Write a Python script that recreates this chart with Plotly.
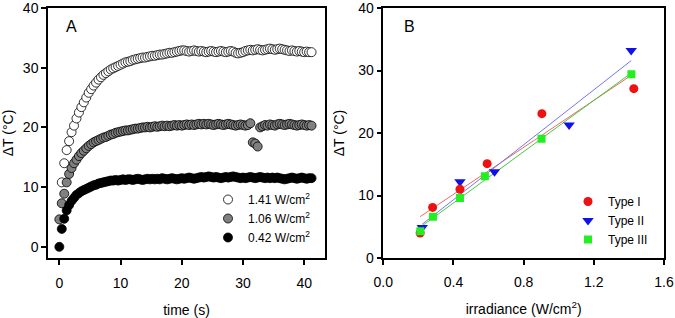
import numpy as np
import plotly.graph_objects as go

# ---------------- Panel A data ----------------
time_s = [
    0.0, 0.4, 0.8, 1.2, 1.6, 2.0, 2.4, 2.8, 3.2, 3.6,
    4.0, 4.4, 4.8, 5.2, 5.6, 6.0, 6.4, 6.8, 7.2, 7.6,
    8.0, 8.4, 8.8, 9.2, 9.6, 10.0, 10.4, 10.8, 11.2, 11.6,
    12.0, 12.4, 12.8, 13.2, 13.6, 14.0, 14.4, 14.8, 15.2, 15.6,
    16.0, 16.4, 16.8, 17.2, 17.6, 18.0, 18.4, 18.8, 19.2, 19.6,
    20.0, 20.4, 20.8, 21.2, 21.6, 22.0, 22.4, 22.8, 23.2, 23.6,
    24.0, 24.4, 24.8, 25.2, 25.6, 26.0, 26.4, 26.8, 27.2, 27.6,
    28.0, 28.4, 28.8, 29.2, 29.6, 30.0, 30.4, 30.8, 31.2, 31.6,
    32.0, 32.4, 32.8, 33.2, 33.6, 34.0, 34.4, 34.8, 35.2, 35.6,
    36.0, 36.4, 36.8, 37.2, 37.6, 38.0, 38.4, 38.8, 39.2, 39.6,
    40.0, 40.4, 40.8, 41.2,
]

dT_141 = [
    None, 10.8, 14.0, 16.2, 17.7, 19.2, 20.3, 21.5, 22.5, 23.4,
    24.2, 25.0, 25.8, 26.4, 27.0, 27.5, 28.0, 28.4, 28.8, 29.1,
    29.4, 29.7, 29.9, 30.1, 30.3, 30.5, 30.7, 30.9, 31.0, 31.1,
    31.3, 31.4, 31.5, 31.6, 31.7, 31.7, 31.8, 31.9, 32.0, 32.0,
    32.1, 32.2, 32.2, 32.3, 32.4, 32.5, 32.5, 32.6, 32.7, 32.8,
    32.9, 32.9, 32.8, 32.7, 32.8, 32.9, 32.8, 32.7, 32.8, 32.7,
    32.6, 32.7, 32.8, 32.7, 32.6, 32.7, 32.8, 32.7, 32.6, 32.7,
    32.8, 32.7, 32.5, 32.4, 32.5, 32.6, 32.8, 32.9, 33.0, 32.9,
    33.0, 33.1, 33.0, 32.9, 33.0, 33.1, 33.2, 33.1, 33.0, 33.1,
    33.2, 33.1, 33.0, 32.9, 32.8, 32.9, 32.8, 32.7, 32.8, 32.7,
    32.6, 32.7, 32.6, 32.6,
]

dT_106 = [
    4.6, 7.3, 8.9, 10.8, 12.2, 13.2, 14.0, 14.6, 15.2, 15.7,
    16.1, 16.5, 16.9, 17.2, 17.5, 17.7, 17.9, 18.1, 18.3, 18.4,
    18.6, 18.8, 18.9, 19.1, 19.2, 19.3, 19.4, 19.5, 19.5, 19.6,
    19.7, 19.8, 19.8, 19.9, 20.0, 20.0, 20.1, 20.0, 20.1, 20.2,
    20.1, 20.2, 20.3, 20.2, 20.3, 20.2, 20.3, 20.4, 20.3, 20.4,
    20.3, 20.4, 20.5, 20.4, 20.5, 20.4, 20.5, 20.6, 20.5, 20.6,
    20.5, 20.6, 20.5, 20.4, 20.5, 20.6, 20.5, 20.4, 20.5, 20.6,
    20.5, 20.4, 20.3, 20.4, 20.5, 20.4, 20.3, 20.4, 20.7, 17.5,
    17.3, 16.8, 20.0, 20.2, 20.4, 20.3, 20.5, 20.4, 20.3, 20.5,
    20.6, 20.5, 20.4, 20.5, 20.6, 20.5, 20.4, 20.3, 20.4, 20.5,
    20.4, 20.3, 20.4, 20.3,
]

dT_042 = [
    0.0, 3.0, 4.7, 6.1, 7.0, 7.7, 8.2, 8.7, 9.0, 9.3,
    9.5, 9.7, 9.9, 10.1, 10.3, 10.4, 10.6, 10.7, 10.8, 10.9,
    11.0, 11.1, 11.1, 11.2, 11.1, 11.2, 11.3, 11.2, 11.3, 11.3,
    11.2, 11.3, 11.4, 11.3, 11.2, 11.3, 11.4, 11.3, 11.4, 11.3,
    11.4, 11.3, 11.5, 11.4, 11.3, 11.4, 11.5, 11.4, 11.3, 11.4,
    11.5, 11.4, 11.5, 11.6, 11.5, 11.4, 11.5, 11.6, 11.7, 11.6,
    11.7, 11.8, 11.7, 11.6, 11.7, 11.6, 11.5, 11.6, 11.7, 11.6,
    11.7, 11.8, 11.7, 11.6, 11.5, 11.6, 11.5, 11.6, 11.7, 11.6,
    11.5, 11.6, 11.7, 11.6, 11.5, 11.6, 11.5, 11.6, 11.5, 11.6,
    11.5, 11.4, 11.3, 11.4, 11.5, 11.6, 11.5, 11.4, 11.5, 11.6,
    11.5, 11.4, 11.5, 11.5,
]

labels_A = ["1.41 W/cm<sup>2</sup>", "1.06 W/cm<sup>2</sup>", "0.42 W/cm<sup>2</sup>"]

# ---------------- Panel B data ----------------
irr_I = [0.21, 0.281, 0.437, 0.592, 0.904, 1.428]
dT_I = [4.0, 8.1, 11.0, 15.1, 23.1, 27.1]
irr_II = [0.222, 0.437, 0.634, 1.059, 1.413]
dT_II = [4.9, 12.2, 13.8, 21.3, 33.2]
irr_III = [0.211, 0.283, 0.437, 0.579, 0.902, 1.414]
dT_III = [4.3, 6.6, 9.6, 13.1, 19.1, 29.4]
labels_B = ["Type I", "Type II", "Type III"]

FONT = "Arial, Liberation Sans, sans-serif"

fig = go.Figure()

# Panel A
for y, name, fill in [(dT_141, labels_A[0], "white"),
                      (dT_106, labels_A[1], "#808080"),
                      (dT_042, labels_A[2], "black")]:
    fig.add_trace(go.Scatter(
        x=time_s, y=y, mode="markers", name=name, xaxis="x", yaxis="y",
        legend="legend",
        marker=dict(symbol="circle", size=9, color=fill,
                    line=dict(color="black", width=0.8)),
    ))

# Panel B fit lines
fits = [(irr_I, dT_I, "#f06868"), (irr_II, dT_II, "#7474f4"), (irr_III, dT_III, "#40cc40")]
for xs, ys, col in fits:
    k, b = np.polyfit(xs, ys, 1)
    xe = [min(xs), max(xs)]
    fig.add_trace(go.Scatter(
        x=xe, y=[k * v + b for v in xe], mode="lines", showlegend=False,
        xaxis="x2", yaxis="y2", line=dict(color=col, width=1), hoverinfo="skip",
    ))

# Panel B markers (draw order: II, I, III)
fig.add_trace(go.Scatter(x=irr_II, y=dT_II, mode="markers", name=labels_B[1],
                         xaxis="x2", yaxis="y2", legend="legend2", legendrank=2,
                         marker=dict(symbol="triangle-down", size=10, color="#1010e8", line=dict(width=0))))
fig.add_trace(go.Scatter(x=irr_I, y=dT_I, mode="markers", name=labels_B[0],
                         xaxis="x2", yaxis="y2", legend="legend2", legendrank=1,
                         marker=dict(symbol="circle", size=9, color="#ee1111", line=dict(width=0))))
fig.add_trace(go.Scatter(x=irr_III, y=dT_III, mode="markers", name=labels_B[2],
                         xaxis="x2", yaxis="y2", legend="legend2", legendrank=3,
                         marker=dict(symbol="square", size=8, color="#22ee22", line=dict(width=0))))

axis_common = dict(showline=True, mirror=True, linecolor="black", linewidth=1.5,
                   ticks="outside", ticklen=5, tickwidth=1.5, tickcolor="black",
                   showgrid=False, zeroline=False, automargin=False,
                   ticklabeloverflow="allow",
                   tickfont=dict(family=FONT, size=14, color="black"))

fig.update_layout(
    width=675, height=318,
    margin=dict(l=48, r=11, t=8, b=60),
    paper_bgcolor="white", plot_bgcolor="white",
    font=dict(family=FONT, size=14, color="black"),
    showlegend=True,
    xaxis=dict(domain=[0, 0.4497], range=[-1.85, 43.4], tickvals=[0, 10, 20, 30, 40],
               ticklabelstandoff=6,
               title=dict(text="time (s)", standoff=18, font=dict(size=14)), **axis_common),
    yaxis=dict(range=[-1.87, 40], tickvals=[0, 10, 20, 30, 40],
               title=dict(text="ΔT (°C)", standoff=8, font=dict(size=14)), **axis_common),
    xaxis2=dict(domain=[0.5443, 1], range=[0, 1.6], tickvals=[0, 0.4, 0.8, 1.2, 1.6],
                ticktext=["0.0", "0.4", "0.8", "1.2", "1.6"], anchor="y2",
                ticklabelstandoff=5,
                title=dict(text="irradiance (W/cm<sup>2</sup>)", standoff=16, font=dict(size=14)),
                **axis_common),
    yaxis2=dict(range=[0, 40], tickvals=[0, 10, 20, 30, 40], anchor="x2",
                title=dict(text="ΔT (°C)", standoff=10, font=dict(size=14)), **axis_common),
    legend=dict(x=(208 - 48) / 616, y=(258 - 185) / 250, xanchor="left", yanchor="top",
                bgcolor="rgba(0,0,0,0)", font=dict(family=FONT, size=12), tracegroupgap=0),
    legend2=dict(x=(568 - 48) / 616, y=(258 - 187) / 250, xanchor="left", yanchor="top",
                 bgcolor="rgba(0,0,0,0)", font=dict(family=FONT, size=12), tracegroupgap=0),
    annotations=[
        dict(text="A", xref="x domain", yref="y domain", x=0.085, y=0.924,
             xanchor="center", yanchor="middle",
             showarrow=False, font=dict(family=FONT, size=16)),
        dict(text="B", xref="x2 domain", yref="y2 domain", x=0.095, y=0.924,
             xanchor="center", yanchor="middle",
             showarrow=False, font=dict(family=FONT, size=16)),
    ],
)

fig.write_html("out.html", config={"displayModeBar": False})

# remove the browser's default 8px body margin so the figure sits at the page origin
with open("out.html", "r", encoding="utf-8") as f:
    html = f.read()
html = html.replace("<body>", '<body style="margin:0;padding:0;overflow:hidden">', 1)
with open("out.html", "w", encoding="utf-8") as f:
    f.write(html)
